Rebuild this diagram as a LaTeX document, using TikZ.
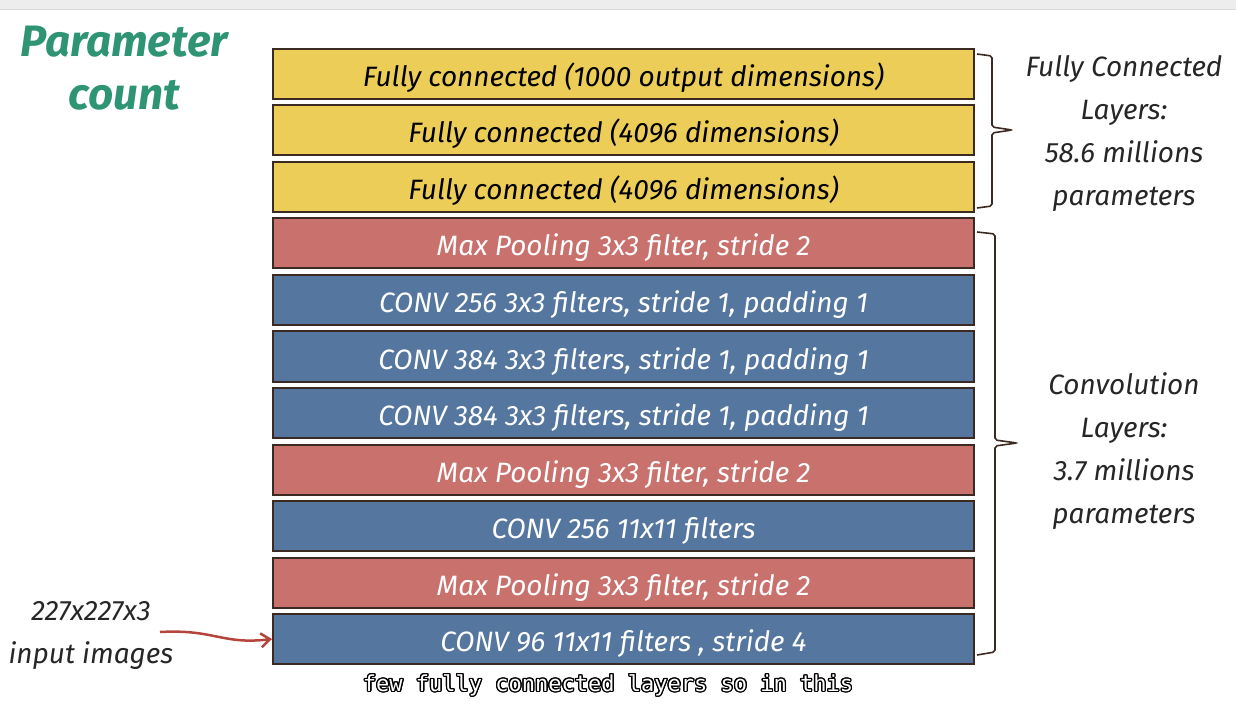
\documentclass[tikz,border=0pt]{standalone}
\usepackage{fontspec}
\setmainfont{Fira Sans}
\setmonofont{DejaVu Sans Mono}
\usepackage[copies]{contour}
\contourlength{1.3pt}
\usetikzlibrary{positioning, arrows.meta}
\definecolor{fcyellow}{HTML}{ECCD57}
\definecolor{poolred}{HTML}{C9716D}
\definecolor{convblue}{HTML}{55779F}
\definecolor{edgebrown}{HTML}{3A2A22}
\definecolor{titlegreen}{HTML}{2E9474}
\definecolor{arrowred}{HTML}{B5443C}

\begin{document}
\begin{tikzpicture}[x=1pt,y=-1pt,
            every node/.style={align=center,font=\fontsize{28}{32}\selectfont\itshape},
            layer/.style={draw=edgebrown,line width=2pt,minimum width=701pt,minimum height=50pt,inner sep=0pt,text height=27pt,text depth=2pt},
            fc/.style={layer,fill=fcyellow,text=black},
            pool/.style={layer,fill=poolred,text=white},
            conv/.style={layer,fill=convblue,text=white},
            note/.style={font=\fontsize{28}{43}\selectfont\itshape,text=black!85},
            brace/.style={line width=1.6pt,edgebrown,rounded corners=2pt},
            to/.style={-{Straight Barb[length=9pt,width=14pt]},line width=2.5pt,arrowred}]
        \useasboundingbox (0,0) rectangle (1236,708);
        \fill[black!7] (0,0) rectangle (1236,9);
        \draw[black!15] (0,9.5) -- (1236,9.5);

        \node[font=\fontsize{44}{53}\selectfont\bfseries\itshape,text=titlegreen] (title) at (124,68) {Parameter\\count};

        \node[fc] (fcA) at (623.5,74) {Fully connected (1000 output dimensions)};
        \node[fc,below=4.5pt of fcA] (fcB) {Fully connected (4096 dimensions)};
        \node[fc,below=4.5pt of fcB] (fcC) {Fully connected (4096 dimensions)};
        \node[pool,below=4.5pt of fcC] (poolC) {Max Pooling 3x3 filter, stride 2};
        \node[conv,below=4.5pt of poolC] (conv256b) {CONV 256 3x3 filters, stride 1, padding 1};
        \node[conv,below=4.5pt of conv256b] (conv384b) {CONV 384 3x3 filters, stride 1, padding 1};
        \node[conv,below=4.5pt of conv384b] (conv384a) {CONV 384 3x3 filters, stride 1, padding 1};
        \node[pool,below=4.5pt of conv384a] (poolB) {Max Pooling 3x3 filter, stride 2};
        \node[conv,below=4.5pt of poolB] (conv256a) {CONV 256 11x11 filters};
        \node[pool,below=4.5pt of conv256a] (poolA) {Max Pooling 3x3 filter, stride 2};
        \node[conv,below=4.5pt of poolA] (conv96) {CONV 96 11x11 filters , stride 4};

        % brackets on the right
        \draw[brace] (977,54) -- (992,56) -- (992,127) -- (1012,130) -- (992,133) -- (992,206) -- (977,208);
        \draw[brace] (977,232) -- (995,234) -- (995,440) -- (1017,443) -- (995,446) -- (995,652) -- (977,655);
        \node[note] (fcnote) at (1124,134) {Fully Connected\\Layers:\\58.6 millions\\parameters};
        \node[note] (convnote) at (1124,451) {Convolution\\Layers:\\3.7 millions\\parameters};

        % input
        \node[note] (input) at (91,636) {227x227x3\\input images};
        \coordinate (inputtail) at (160,632);
        \draw[to] (inputtail) .. controls (215,629) and (222,645) .. (conv96.west);

        \node[font=\ttfamily\fontsize{22}{26}\selectfont,text=white] (caption) at (608,686) {\contour{black}{few fully connected layers so in this}};
    \end{tikzpicture}
\end{document}
